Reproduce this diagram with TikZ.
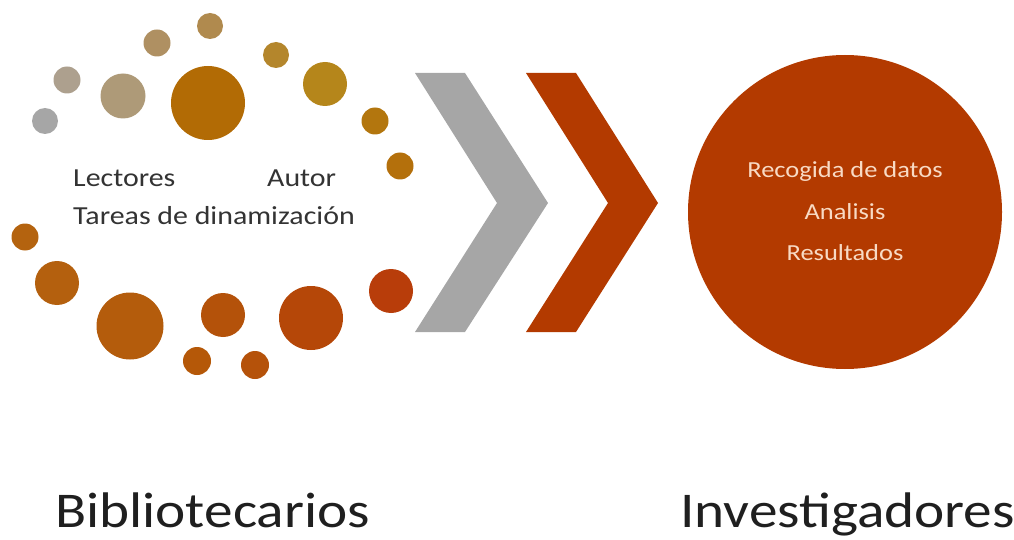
\documentclass[tikz,border=0pt]{standalone}
\usepackage{fontspec}
\setmainfont{Carlito}
\newcommand{\wide}[1]{\scalebox{1.15}[1]{#1}}
\begin{document}
\begin{tikzpicture}[x=1pt,y=-1pt,
  dot/.style={circle,inner sep=0pt,minimum size=#1,draw=none},
  lbl/.style={anchor=base west,inner sep=0pt,text=black!80,font=\fontsize{26}{30}\selectfont},
  inlbl/.style={anchor=base,inner sep=0pt,text={rgb,255:red,248;green,218;blue,196},font=\fontsize{23}{27}\selectfont},
  big/.style={anchor=base west,inner sep=0pt,text=black!88,font=\fontsize{50}{60}\selectfont}]
\useasboundingbox (0,0) rectangle (1014,540);
\definecolor{cA}{HTML}{A6A6A6}
\definecolor{cB}{HTML}{ADA08E}
\definecolor{cC}{HTML}{AE9A78}
\definecolor{cD}{HTML}{AF9062}
\definecolor{cE}{HTML}{B08A4E}
\definecolor{cF}{HTML}{B26B05}
\definecolor{cG}{HTML}{B4862C}
\definecolor{cH}{HTML}{B5861B}
\definecolor{cI}{HTML}{B3760E}
\definecolor{cJ}{HTML}{B4700C}
\definecolor{cK}{HTML}{B4630F}
\definecolor{cL}{HTML}{B4600E}
\definecolor{cM}{HTML}{B45C0C}
\definecolor{cN}{HTML}{B4520A}
\definecolor{cO}{HTML}{B55808}
\definecolor{cP}{HTML}{B5520A}
\definecolor{cQ}{HTML}{B54708}
\definecolor{cR}{HTML}{B83D0A}
\definecolor{chgray}{HTML}{A6A6A6}
\definecolor{chred}{HTML}{B33A00}
% dots
\node[dot=26pt,fill=cA] (d1) at (45,121) {};
\node[dot=27pt,fill=cB] (d2) at (67,80) {};
\node[dot=45pt,fill=cC] (d3) at (123,96) {};
\node[dot=27pt,fill=cD] (d4) at (157,43) {};
\node[dot=26pt,fill=cE] (d5) at (210,26) {};
\node[dot=74pt,fill=cF] (d6) at (208,103) {};
\node[dot=26pt,fill=cG] (d7) at (276,55) {};
\node[dot=44pt,fill=cH] (d8) at (325,84) {};
\node[dot=27pt,fill=cI] (d9) at (375,121) {};
\node[dot=27pt,fill=cJ] (d10) at (400,166) {};
\node[dot=27pt,fill=cK] (d11) at (25,237) {};
\node[dot=44pt,fill=cL] (d12) at (57,283) {};
\node[dot=67pt,fill=cM] (d13) at (130,326) {};
\node[dot=44pt,fill=cN] (d14) at (223,315) {};
\node[dot=28pt,fill=cO] (d15) at (197,361) {};
\node[dot=28pt,fill=cP] (d16) at (255,365) {};
\node[dot=64pt,fill=cQ] (d17) at (311,318) {};
\node[dot=44pt,fill=cR] (d18) at (391,291) {};
% labels
\node[lbl] (lect) at (73,187) {\wide{Lectores}};
\node[lbl] (aut) at (267,187) {\wide{Autor}};
\node[lbl] (tar) at (73,225) {\wide{Tareas de dinamización}};
% chevrons
\fill[chgray] (415,73) -- (465,73) -- (548,203) -- (465,332) -- (415,332) -- (497,203) -- cycle;
\fill[chred] (526,73) -- (576,73) -- (658,203) -- (576,332) -- (526,332) -- (608,203) -- cycle;
% big circle
\node[circle,fill=chred,minimum size=314pt,inner sep=0pt] (inv) at (845,212) {};
\node[inlbl] (t1) at (845,178) {\wide{Recogida de datos}};
\node[inlbl] (t2) at (845,219) {\wide{Analisis}};
\node[inlbl] (t3) at (845,260) {\wide{Resultados}};
% bottom labels
\node[big] (bib) at (55,527) {\scalebox{1.145}[1]{Bibliotecarios}};
\node[big] (invl) at (680,527) {\scalebox{1.145}[1]{Investigadores}};
\end{tikzpicture}
\end{document}
